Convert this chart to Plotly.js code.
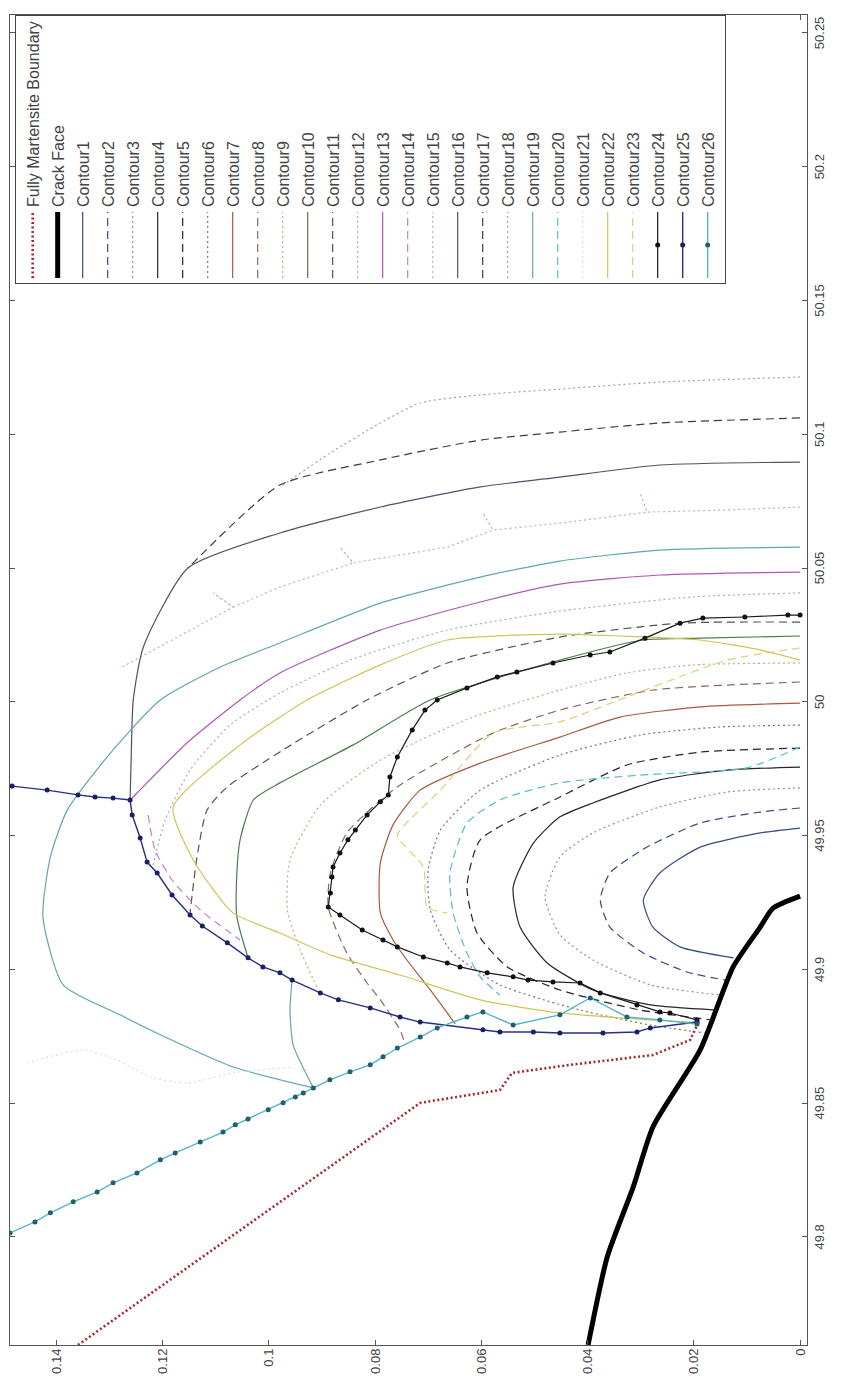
<!DOCTYPE html>
<html><head><meta charset="utf-8">
<script src="https://cdn.plot.ly/plotly-3.0.1.min.js"></script>
<style>
html,body{margin:0;padding:0;background:#fff;}
#wrap{position:relative;width:841px;height:1400px;overflow:hidden;background:#fff;}
#chart{position:absolute;left:0;top:0;width:1400px;height:841px;transform-origin:0 0;transform:translate(0px,1400px) rotate(-90deg);}
</style></head><body>
<div id="wrap"><div id="chart"></div></div>
<script>
// ---- tick labels ----
const xTickVals = [49.8, 49.85, 49.9, 49.95, 50, 50.05, 50.1, 50.15, 50.2, 50.25];
const xTickText = ['49.8','49.85','49.9','49.95','50','50.05','50.1','50.15','50.2','50.25'];
const yTickVals = [0, 0.02, 0.04, 0.06, 0.08, 0.1, 0.12, 0.14];
const yTickText = ['0','0.02','0.04','0.06','0.08','0.1','0.12','0.14'];

// ---- series ----
const fmbX = [49.7596, 49.8501, 49.8549, 49.8613, 49.8643, 49.8680, 49.8736, 49.8792];
const fmbY = [0.1359, 0.0715, 0.0565, 0.0542, 0.0433, 0.0277, 0.0207, 0.0194];
const crackX = [49.9274, 49.9229, 49.9158, 49.9009, 49.8699, 49.8411, 49.8187, 49.7925, 49.7596];
const crackY = [0, 0.0051, 0.0075, 0.0126, 0.0188, 0.0277, 0.0314, 0.0363, 0.0399];
const c1X = [49.9528, 49.9510, 49.9457, 49.9360, 49.9259, 49.9158, 49.9084, 49.9043];
const c1Y = [0, 0.0075, 0.0188, 0.0264, 0.0295, 0.0277, 0.0226, 0.0125];
const c2X = [49.9603, 49.9588, 49.9547, 49.9457, 49.9360, 49.9259, 49.9158, 49.9061, 49.8990, 49.8960];
const c2Y = [0, 0.0075, 0.0188, 0.0288, 0.0358, 0.0376, 0.0358, 0.0295, 0.0213, 0.0141];
const c3X = [49.9678, 49.9663, 49.9607, 49.9510, 49.9420, 49.9271, 49.9129, 49.9035, 49.8942, 49.8904];
const c3Y = [0, 0.0137, 0.0264, 0.0390, 0.0452, 0.0480, 0.0452, 0.0390, 0.0282, 0.0151];
const c4X = [49.9756, 49.9745, 49.9708, 49.9622, 49.9570, 49.9472, 49.9308, 49.9158, 49.9024, 49.8923, 49.8867, 49.8848];
const c4Y = [0, 0.0137, 0.0264, 0.0390, 0.0452, 0.0502, 0.0540, 0.0527, 0.0476, 0.0390, 0.0282, 0.0158];
const c5X = [49.9827, 49.9812, 49.9764, 49.9644, 49.9484, 49.9308, 49.9136, 49.9009, 49.8923, 49.8848, 49.8811];
const c5Y = [0, 0.0188, 0.0326, 0.0452, 0.0602, 0.0627, 0.0608, 0.0551, 0.0452, 0.0301, 0.0166];
const c6X = [49.9913, 49.9906, 49.9876, 49.9801, 49.9670, 49.9521, 49.9371, 49.9222, 49.9073, 49.8942, 49.8848, 49.8792, 49.8762];
const c6Y = [0, 0.0151, 0.0301, 0.0452, 0.0602, 0.0677, 0.0700, 0.0696, 0.0659, 0.0565, 0.0414, 0.0282, 0.0179];
const c7X = [49.9995, 49.9981, 49.9943, 49.9868, 49.9771, 49.9670, 49.9540, 49.9398, 49.9211, 49.9110, 49.9035, 49.8923, 49.8796];
const c7Y = [0, 0.0188, 0.0339, 0.0452, 0.0602, 0.0715, 0.0766, 0.0790, 0.0790, 0.0766, 0.0740, 0.0696, 0.0649];
const c8X = [50.0074, 50.0044, 49.9969, 49.9883, 49.9682, 49.9510, 49.9360, 49.9233, 49.9061, 49.8949, 49.8886, 49.8774, 49.8717];
const c8Y = [0, 0.0277, 0.0452, 0.0578, 0.0758, 0.0853, 0.0884, 0.0888, 0.0853, 0.0815, 0.0790, 0.0753, 0.0743];
const c9X = [50.0145, 50.0138, 50.0108, 50.0044, 49.9939, 49.9782, 49.9614, 49.9409, 49.9222, 49.9073, 49.8923];
const c9Y = [0, 0.0201, 0.0326, 0.0452, 0.0621, 0.0790, 0.0903, 0.0960, 0.0965, 0.0941, 0.0907];
const c10X = [50.0246, 50.0238, 50.0231, 50.0156, 50.0007, 49.9839, 49.9697, 49.9633, 49.9484, 49.9360, 49.9196, 49.9043];
const c10Y = [0, 0.0188, 0.0295, 0.0452, 0.0696, 0.0841, 0.0979, 0.1029, 0.1054, 0.1060, 0.1060, 0.1039];
const c11X = [50.0298, 50.0294, 50.0242, 50.0145, 50.0007, 49.9820, 49.9682, 49.9596, 49.9420, 49.9211];
const c11Y = [0, 0.0226, 0.0452, 0.0664, 0.0815, 0.0973, 0.1078, 0.1116, 0.1135, 0.1148];
const c12X = [50.0407, 50.0392, 50.0339, 50.0268, 50.0156, 50.0033, 49.9913, 49.9745, 49.9558, 49.9379];
const c12Y = [0, 0.0201, 0.0452, 0.0664, 0.0847, 0.0979, 0.1073, 0.1148, 0.1195, 0.1219];
const c13X = [50.0485, 50.0474, 50.0440, 50.0373, 50.0268, 50.0108, 50.0007, 49.9846, 49.9659, 49.9633];
const c13Y = [0, 0.0264, 0.0452, 0.0602, 0.0790, 0.0979, 0.1054, 0.1154, 0.1248, 0.1261];
const c14X = [49.9577, 49.9446, 49.9334, 49.9222, 49.9110];
const c14Y = [0.1227, 0.1214, 0.1182, 0.1129, 0.1054];
const c15X = [50.0728, 50.0717, 50.0709, 50.0780, 50.0709, 50.0668, 50.0642, 50.0706, 50.0642, 50.0578, 50.0519, 50.0578, 50.0519, 50.0429, 50.0354, 50.0407, 50.0354, 50.0167, 50.0126];
const c15Y = [0, 0.0137, 0.0288, 0.0301, 0.0288, 0.0452, 0.0578, 0.0597, 0.0578, 0.0664, 0.0841, 0.0866, 0.0841, 0.0979, 0.1067, 0.1105, 0.1067, 0.1242, 0.1280];
const c16X = [50.0896, 50.0885, 50.0840, 50.0803, 50.0728, 50.0631, 50.0500, 50.0205, 50.0007, 49.9782, 49.9633];
const c16Y = [0, 0.0264, 0.0452, 0.0602, 0.0790, 0.0979, 0.1152, 0.1236, 0.1255, 0.1259, 0.1261];
const c17X = [50.1061, 50.1042, 50.1008, 50.0978, 50.0904, 50.0810, 50.0500];
const c17Y = [0, 0.0264, 0.0452, 0.0602, 0.0790, 0.0979, 0.1152];
const c18X = [50.1214, 50.1195, 50.1169, 50.1147, 50.1117, 50.1042, 50.0930, 50.0803];
const c18Y = [0, 0.0264, 0.0452, 0.0602, 0.0715, 0.0790, 0.0884, 0.0979];
const c19X = [50.0578, 50.0567, 50.0526, 50.0466, 50.0369, 50.0220, 50.0130, 50.0007, 49.9820, 49.9596, 49.9420, 49.9196, 49.8942, 49.8830, 49.8747, 49.8635, 49.8557, null, 49.8960, 49.8848, 49.8717, 49.8557];
const c19Y = [0, 0.0264, 0.0452, 0.0602, 0.0790, 0.0979, 0.1091, 0.1204, 0.1293, 0.1379, 0.1411, 0.1425, 0.1387, 0.1280, 0.1195, 0.1067, 0.0916, null, 0.0956, 0.0960, 0.0954, 0.0916];
const c20X = [49.9831, 49.9753, 49.9726, 49.9697, 49.9633, 49.9547, 49.9360, 49.9211, 49.9061, 49.8972, 49.8904];
const c20Y = [0, 0.0100, 0.0301, 0.0452, 0.0565, 0.0627, 0.0659, 0.0653, 0.0627, 0.0602, 0.0565];
const c21X = [49.8650, 49.8699, 49.8661, 49.8598, 49.8575, 49.8613, 49.8635];
const c21Y = [0.1455, 0.1349, 0.1285, 0.1223, 0.1154, 0.1067, 0.0954];
const c22X = [50.0156, 50.0194, 50.0231, 50.0246, 50.0253, 50.0231, 50.0138, 50.0007, 49.9839, 49.9607, 49.9409, 49.9211, 49.9136, 49.9054, 49.8979, 49.8886, 49.8837, 49.8811, 49.8800];
const c22Y = [0, 0.0075, 0.0188, 0.0339, 0.0452, 0.0664, 0.0790, 0.0928, 0.1054, 0.1180, 0.1142, 0.1067, 0.0979, 0.0884, 0.0753, 0.0602, 0.0452, 0.0282, 0.0188];
const c23X = [50.0201, 50.0156, 50.0018, 49.9925, 49.9883, 49.9670, 49.9521, 49.9495, 49.9383, 49.9233, 49.9211];
const c23Y = [0, 0.0137, 0.0326, 0.0452, 0.0578, 0.0677, 0.0753, 0.0758, 0.0709, 0.0702, 0.0664];
const c24X = [50.0324, 50.0324, 50.0317, 50.0313, 50.0294, 50.0238, 50.0186, 50.0175, 50.0145, 50.0111, 50.0093, 50.0052, 50.0007, 49.9969, 49.9895, 49.9794, 49.9719, 49.9652, 49.9626, 49.9577, 49.9521, 49.9484, 49.9435, 49.9383, 49.9345, 49.9285, 49.9233, 49.9203, 49.9147, 49.9110, 49.9084, 49.9046, 49.9024, 49.9009, 49.8987, 49.8972, 49.8960, 49.8953, 49.8949, 49.8912, 49.8867, 49.8841, 49.8837, 49.8811];
const c24Y = [0, 0.0023, 0.0104, 0.0183, 0.0226, 0.0292, 0.0358, 0.0395, 0.0465, 0.0533, 0.0570, 0.0627, 0.0683, 0.0706, 0.0730, 0.0758, 0.0772, 0.0775, 0.0790, 0.0815, 0.0837, 0.0851, 0.0866, 0.0879, 0.0881, 0.0884, 0.0888, 0.0866, 0.0824, 0.0785, 0.0758, 0.0709, 0.0664, 0.0640, 0.0589, 0.0540, 0.0512, 0.0465, 0.0414, 0.0376, 0.0307, 0.0264, 0.0245, 0.0194];
const c25X = [49.9685, 49.9670, 49.9652, 49.9644, 49.9640, 49.9633, 49.9577, 49.9491, 49.9401, 49.9360, 49.9278, 49.9203, 49.9162, 49.9099, 49.9043, 49.9009, 49.8987, 49.8960, 49.8912, 49.8886, 49.8856, 49.8822, 49.8803, 49.8774, 49.8766, 49.8766, 49.8762, 49.8762, 49.8766, 49.8781, 49.8803];
const c25Y = [0.1483, 0.1417, 0.1359, 0.1327, 0.1293, 0.1261, 0.1257, 0.1242, 0.1229, 0.1210, 0.1182, 0.1148, 0.1125, 0.1078, 0.1039, 0.1011, 0.0979, 0.0956, 0.0903, 0.0869, 0.0809, 0.0753, 0.0715, 0.0597, 0.0565, 0.0502, 0.0452, 0.0371, 0.0307, 0.0282, 0.0194];
const c26X = [49.8015, 49.8056, 49.8090, 49.8131, 49.8168, 49.8202, 49.8239, 49.8288, 49.8314, 49.8355, 49.8392, 49.8419, 49.8441, 49.8475, 49.8501, 49.8523, 49.8538, 49.8557, 49.8587, 49.8617, 49.8643, 49.8673, 49.8706, 49.8747, 49.8781, 49.8822, 49.8841, 49.8792, 49.8830, 49.8893, 49.8822, 49.8811, 49.8796];
const c26Y = [0.1487, 0.1440, 0.1411, 0.1368, 0.1323, 0.1293, 0.1248, 0.1204, 0.1176, 0.1129, 0.1086, 0.1063, 0.1039, 0.1001, 0.0973, 0.0950, 0.0935, 0.0916, 0.0885, 0.0847, 0.0809, 0.0785, 0.0758, 0.0715, 0.0683, 0.0627, 0.0597, 0.0540, 0.0452, 0.0395, 0.0326, 0.0264, 0.0194];

// ---- styles: name, x, y, colour, dash, width, marker colour, smooth ----
const DASH = '8px,5px', DOT = '2px,3px';
const specs = [
  ['Fully Martensite Boundary', fmbX, fmbY, '#a8282c', '2px,2.5px', 2.6, null, false],
  ['Crack Face', crackX, crackY, '#000000', 'solid', 5, null, true],
  ['Contour1', c1X, c1Y, '#3a4a84', 'solid', 1.2, null, true],
  ['Contour2', c2X, c2Y, '#3a4a84', DASH, 1.2, null, true],
  ['Contour3', c3X, c3Y, '#8890bc', DOT, 1.2, null, true],
  ['Contour4', c4X, c4Y, '#262626', 'solid', 1.2, null, true],
  ['Contour5', c5X, c5Y, '#262626', DASH, 1.2, null, true],
  ['Contour6', c6X, c6Y, '#777777', DOT, 1.2, null, true],
  ['Contour7', c7X, c7Y, '#a85a3a', 'solid', 1.2, null, true],
  ['Contour8', c8X, c8Y, '#8a6a58', DASH, 1.2, null, true],
  ['Contour9', c9X, c9Y, '#c8a882', DOT, 1.2, null, true],
  ['Contour10', c10X, c10Y, '#4c7a4c', 'solid', 1.2, null, true],
  ['Contour11', c11X, c11Y, '#4a5a4a', DASH, 1.2, null, true],
  ['Contour12', c12X, c12Y, '#9ab89a', DOT, 1.2, null, true],
  ['Contour13', c13X, c13Y, '#b055b8', 'solid', 1.2, null, true],
  ['Contour14', c14X, c14Y, '#c080c8', DASH, 1.2, null, true],
  ['Contour15', c15X, c15Y, '#d7a0cf', DOT, 1.2, null, false],
  ['Contour16', c16X, c16Y, '#4a5368', 'solid', 1.2, null, true],
  ['Contour17', c17X, c17Y, '#3c3c3c', DASH, 1.2, null, true],
  ['Contour18', c18X, c18Y, '#a0a0a0', DOT, 1.2, null, true],
  ['Contour19', c19X, c19Y, '#62a6b0', 'solid', 1.2, null, true],
  ['Contour20', c20X, c20Y, '#58bccb', DASH, 1.2, null, true],
  ['Contour21', c21X, c21Y, '#c2e6ec', DOT, 1.2, null, true],
  ['Contour22', c22X, c22Y, '#cfc55a', 'solid', 1.2, null, true],
  ['Contour23', c23X, c23Y, '#dccf78', DASH, 1.2, null, true],
  ['Contour24', c24X, c24Y, '#1a1a1a', 'solid', 1.2, '#111111', false],
  ['Contour25', c25X, c25Y, '#2a2f86', 'solid', 1.4, '#1a1f66', false],
  ['Contour26', c26X, c26Y, '#55b5c8', 'solid', 1.4, '#1f5f70', false]
];

const traces = specs.map((s, i) => {
  const t = {
    type: 'scatter', name: s[0], x: s[1], y: s[2],
    mode: s[6] ? 'lines+markers' : 'lines',
    line: {color: s[3], dash: s[4], width: s[5], shape: s[7] ? 'spline' : 'linear', smoothing: 0.6},
    legendgroup: 'g' + i,
    connectgaps: false,
    hoverinfo: 'skip'
  };
  if (s[6]) t.marker = {size: 5, color: s[6], symbol: 'circle'};
  return t;
});

const fontFam = 'Liberation Sans, Arial, Helvetica, sans-serif';
const axisCommon = {
  showgrid: false, zeroline: false, showline: true, linecolor: '#555', linewidth: 1,
  mirror: 'allticks', ticks: 'inside', ticklen: 5, tickcolor: '#555', tickwidth: 1,
  tickmode: 'array', tickfont: {family: fontFam, size: 13, color: '#444'}
};

const layout = {
  width: 1400, height: 841,
  margin: {l: 55, r: 15, t: 10, b: 34, pad: 0},
  paper_bgcolor: '#ffffff', plot_bgcolor: '#ffffff',
  showlegend: true,
  xaxis: Object.assign({}, axisCommon, {range: [49.7596, 50.2567], tickvals: xTickVals, ticktext: xTickText}),
  yaxis: Object.assign({}, axisCommon, {range: [-0.0013, 0.1487], tickvals: yTickVals, ticktext: yTickText}),
  legend: {
    x: 1, xanchor: 'right', y: 0.994, yanchor: 'top',
    bgcolor: '#ffffff', bordercolor: '#444', borderwidth: 1,
    font: {family: fontFam, size: 16, color: '#444'},
    tracegroupgap: 1.2, itemwidth: 66, traceorder: 'grouped'
  }
};

Plotly.newPlot('chart', traces, layout, {staticPlot: true, displayModeBar: false});
</script>
</body></html>
